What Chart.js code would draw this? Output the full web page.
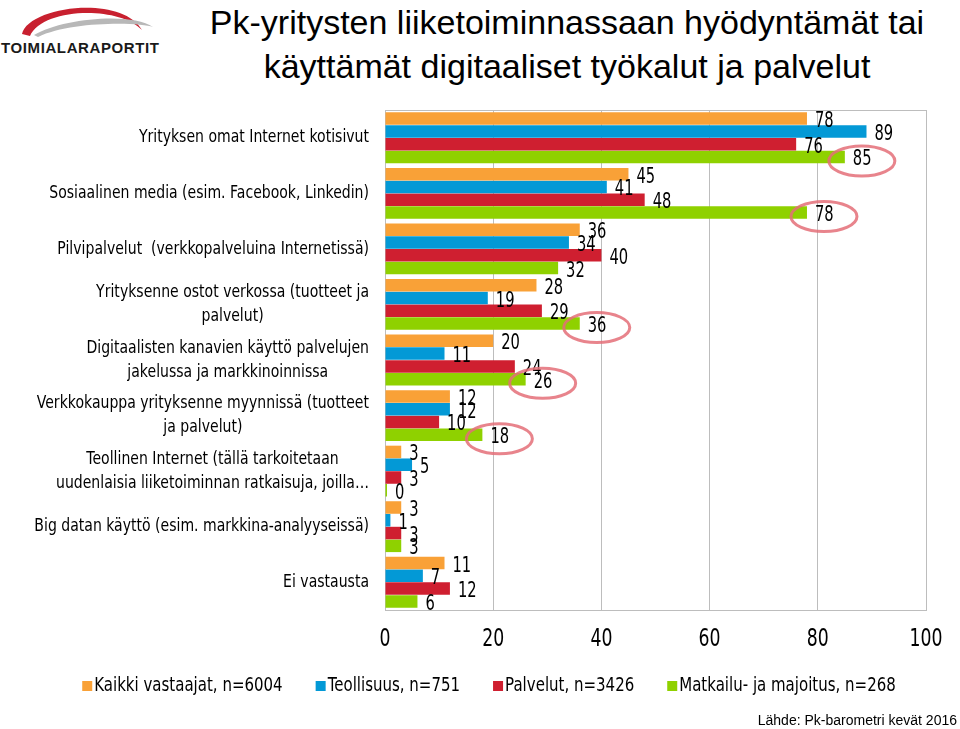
<!DOCTYPE html>
<html>
<head>
<meta charset="utf-8">
<script src="https://cdn.jsdelivr.net/npm/chart.js@4.4.1/dist/chart.umd.min.js"></script>
<style>
  body { margin: 0; background: #fff; width: 960px; height: 729px; overflow: hidden; position: relative; font-family: "Liberation Sans", Arial, sans-serif; }
  #logo { position: absolute; left: 0; top: 0; }
  h1 { position: absolute; left: 167px; width: 800px; top: 0; margin: 0; font-weight: normal; font-size: 34px; line-height: 44px; text-align: center; color: #000; }
  #wrap { position: absolute; left: 0; top: 100px; width: 960px; height: 620px; }
  #source { position: absolute; right: 3px; top: 712px; font-size: 14px; color: #000; }
</style>
</head>
<body>
<svg id="logo" width="170" height="60" viewBox="0 0 170 60">
  <path d="M22 34 C 28 6, 122 -6, 142 30 C 118 5, 42 8, 30 36 Z" fill="#c8202f"/>
  <path d="M34 35 C 62 18, 132 12, 153 27 C 140 22, 70 21, 38 37 Z" fill="#b8b8b8"/>
  <text x="1" y="53" font-family="Liberation Sans, Arial, sans-serif" font-weight="bold" font-size="15" fill="#1a1a1a" textLength="158">TOIMIALARAPORTIT</text>
</svg>
<h1>Pk-yritysten liiketoiminnassaan hyödyntämät tai<br>käyttämät digitaaliset työkalut ja palvelut</h1>
<div id="wrap"><canvas id="chart"></canvas></div>
<div id="source">Lähde: Pk-barometri kevät 2016</div>
<script>
// kysymykset (rivit jaettu kuten kuvassa)
const categories = [
  ["Yrityksen omat Internet kotisivut"],
  ["Sosiaalinen media (esim. Facebook, Linkedin)"],
  ["Pilvipalvelut  (verkkopalveluina Internetissä)"],
  ["Yrityksenne ostot verkossa (tuotteet ja", "palvelut)"],
  ["Digitaalisten kanavien käyttö palvelujen", "jakelussa ja markkinoinnissa"],
  ["Verkkokauppa yrityksenne myynnissä (tuotteet", "ja palvelut)"],
  ["Teollinen Internet (tällä tarkoitetaan", "uudenlaisia liiketoiminnan ratkaisuja, joilla…"],
  ["Big datan käyttö (esim. markkina-analyyseissä)"],
  ["Ei vastausta"]
];
const seriesNames = ["Kaikki vastaajat, n=6004", "Teollisuus, n=751", "Palvelut, n=3426", "Matkailu- ja majoitus, n=268"];
const kaikki     = [78, 45, 36, 28, 20, 12, 3, 3, 11];
const teollisuus = [89, 41, 34, 19, 11, 12, 5, 1, 7];
const palvelut   = [76, 48, 40, 29, 24, 10, 3, 3, 12];
const matkailu   = [85, 78, 32, 36, 26, 18, 0, 3, 6];
const xTicks = [0, 20, 40, 60, 80, 100];
const circled = [0, 1, 3, 4, 5]; // matkailu-arvot, jotka on ympyröity

const colors = ["#f9a137", "#0399d6", "#cf1f30", "#8fd100"];
const FONT = "'DejaVu Sans', sans-serif";

// kapea teksti: fontti puristetaan vaakasuunnassa
function narrowText(ctx, text, x, y, align, sx) {
  ctx.save();
  ctx.translate(x, y);
  ctx.scale(sx, 1);
  ctx.textAlign = align;
  ctx.fillText(text, 0, 0);
  ctx.restore();
}

// y-akselin nimet: lohko oikealle, rivit keskitetty
const categoryLabels = {
  id: "categoryLabels",
  afterDraw(chart) {
    const ctx = chart.ctx, y = chart.scales.y, area = chart.chartArea;
    const sx = 0.78;
    ctx.save();
    ctx.font = "18px " + FONT;
    ctx.fillStyle = "#000";
    ctx.textBaseline = "middle";
    categories.forEach((lines, i) => {
      const cy = y.getPixelForValue(i);
      const w = Math.max(...lines.map(l => ctx.measureText(l).width)) * sx;
      const cx = area.left - 16 - w / 2;
      lines.forEach((l, j) => narrowText(ctx, l, cx, cy + (j - (lines.length - 1) / 2) * 24, "center", sx));
    });
    ctx.restore();
  }
};

// x-akselin luvut
const xLabels = {
  id: "xLabels",
  afterDraw(chart) {
    const ctx = chart.ctx, x = chart.scales.x, area = chart.chartArea;
    ctx.save();
    ctx.font = "24px " + FONT;
    ctx.fillStyle = "#000";
    ctx.textBaseline = "middle";
    xTicks.forEach(v => narrowText(ctx, String(v), x.getPixelForValue(v), area.bottom + 30, "center", 0.72));
    ctx.restore();
  }
};

// selite alhaalla
const legendRow = {
  id: "legendRow",
  afterDraw(chart) {
    const ctx = chart.ctx, sx = 0.75, gap = 33;
    ctx.save();
    ctx.font = "20px " + FONT;
    ctx.textBaseline = "middle";
    const widths = seriesNames.map(n => 12 + ctx.measureText(n).width * sx);
    const total = widths.reduce((a, b) => a + b, 0) + gap * (widths.length - 1);
    let x = chart.width / 2 + 9 - total / 2;
    const y = chart.chartArea.bottom + 76;
    seriesNames.forEach((n, k) => {
      ctx.fillStyle = colors[k];
      ctx.fillRect(x, y - 5, 10, 10);
      ctx.fillStyle = "#000";
      narrowText(ctx, n, x + 12, y, "left", sx);
      x += widths[k] + gap;
    });
    ctx.restore();
  }
};

// arvot pylväiden päihin + punaiset ellipsit
const valueLabels = {
  id: "valueLabels",
  afterDraw(chart) {
    const ctx = chart.ctx;
    ctx.save();
    ctx.font = "21px " + FONT;
    ctx.fillStyle = "#000";
    ctx.textBaseline = "middle";
    chart.data.datasets.forEach((ds, d) => {
      chart.getDatasetMeta(d).data.forEach((bar, i) => {
        narrowText(ctx, String(ds.data[i]), bar.x + 8, bar.y + 3, "left", 0.7);
      });
    });
    ctx.strokeStyle = "rgba(228,110,120,0.85)";
    ctx.lineWidth = 3;
    const green = chart.getDatasetMeta(3).data;
    circled.forEach(i => {
      const bar = green[i];
      ctx.beginPath();
      ctx.ellipse(bar.x + 17, bar.y + 4, 33, 15, 0, 0, Math.PI * 2);
      ctx.stroke();
    });
    ctx.restore();
  }
};

const frame = {
  id: "frame",
  beforeDatasetsDraw(chart) {
    const a = chart.chartArea, ctx = chart.ctx;
    ctx.save();
    ctx.strokeStyle = "#bdbdbd";
    ctx.lineWidth = 1;
    ctx.strokeRect(a.left + 0.5, a.top + 0.5, a.right - a.left, a.bottom - a.top);
    ctx.restore();
  }
};

const values = [kaikki, teollisuus, palvelut, matkailu];

new Chart(document.getElementById("chart"), {
  type: "bar",
  data: {
    labels: categories.map(c => c.join(" ")),
    datasets: values.map((v, k) => ({
      label: seriesNames[k],
      data: v,
      backgroundColor: colors[k],
      borderWidth: 0,
      minBarLength: 2,
      categoryPercentage: 0.92,
      barPercentage: 0.98
    }))
  },
  options: {
    indexAxis: "y",
    responsive: true,
    maintainAspectRatio: false,
    animation: false,
    layout: { padding: { top: 10, right: 34, left: 0, bottom: 68 } },
    scales: {
      x: {
        min: 0, max: 100,
        afterBuildTicks: s => { s.ticks = xTicks.map(v => ({ value: v })); },
        afterFit: s => { s.height = 42; },
        grid: { color: "#bdbdbd", drawTicks: false },
        border: { display: false },
        ticks: { display: false }
      },
      y: {
        afterFit: s => { s.width = 385; },
        grid: { display: false },
        border: { display: false },
        ticks: { display: false }
      }
    },
    plugins: {
      legend: { display: false },
      tooltip: { enabled: false }
    }
  },
  plugins: [frame, categoryLabels, xLabels, legendRow, valueLabels]
});
</script>
</body>
</html>
